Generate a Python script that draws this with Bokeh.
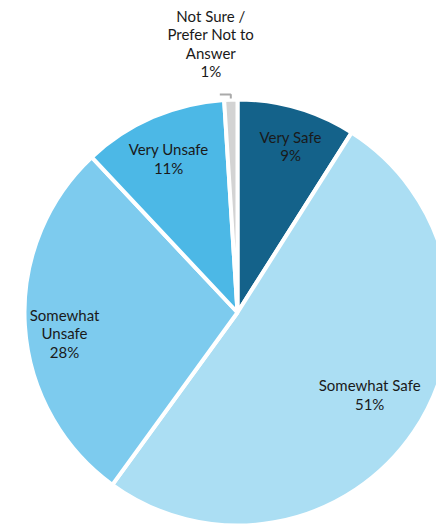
import math
from bokeh.plotting import figure
from bokeh.models import Range1d, ColumnDataSource
from bokeh.core.properties import value
from bokeh.embed import file_html
from bokeh.resources import INLINE

# ---- data ----
categories = ["Very Safe", "Somewhat Safe", "Somewhat Unsafe", "Very Unsafe", "Not Sure / Prefer Not to Answer"]
label_lines = ["Very Safe", "Somewhat Safe", "Somewhat\nUnsafe", "Very Unsafe", "Not Sure /\nPrefer Not to\nAnswer"]
percents = [9, 51, 28, 11, 1]
colors = ["#14628a", "#abdef3", "#7dcbee", "#4cb8e6", "#d3d3d3"]

# ---- layout ----
W, H = 436, 524
cx, cy, R = 237, 212, 213
label_r = [0.82, 0.73, 0.818, 0.792, None]
label_shift_deg = [1.5, -2.4, -3.3, -0.7, 0]   # clockwise shift of label from slice middle

p = figure(width=W, height=H, output_backend="svg", toolbar_location=None,
           x_range=Range1d(0, W), y_range=Range1d(0, H), min_border=0)
p.axis.visible = False
p.grid.visible = False
p.outline_line_color = None
p.background_fill_color = "white"

total = sum(percents)
starts, ends, mids = [], [], []
cum = 0.0
for v in percents:
    a0 = math.pi / 2 - 2 * math.pi * cum / total
    cum += v
    a1 = math.pi / 2 - 2 * math.pi * cum / total
    starts.append(a0)
    ends.append(a1)
    mids.append((a0 + a1) / 2)

src = ColumnDataSource(dict(x=[cx] * len(percents), y=[cy] * len(percents),
                            start=starts, end=ends, color=colors))
p.wedge(x="x", y="y", radius=R, start_angle="start", end_angle="end",
        direction="clock", fill_color="color", line_color="white", line_width=4,
        source=src)

font = value("Lato")
FS = "15px"
LH = 1.02
lx, ly, lt = [], [], []
for i, (lab, v) in enumerate(zip(label_lines, percents)):
    if label_r[i] is None:
        continue
    a = mids[i] - math.radians(label_shift_deg[i])
    lx.append(cx + R * label_r[i] * math.cos(a))
    ly.append(cy + R * label_r[i] * math.sin(a))
    lt.append(f"{lab}\n{v}%")
p.text(x=lx, y=ly, text=lt, text_font=font, text_font_size=FS,
       text_color="#1a1a1a", text_align="center", text_baseline="middle",
       text_line_height=LH)

# outside label for the small slice, with a leader
i = len(percents) - 1
ex = cx + R * math.cos(mids[i])
ey = cy + R * math.sin(mids[i]) + 1
p.line(x=[ex - 11, ex, ex], y=[ey + 4, ey + 4, ey], line_color="#aaaaaa", line_width=2)
p.text(x=[ex - 20], y=[ey + 55], text=[f"{label_lines[i]}\n{percents[i]}%"],
       text_font=font, text_font_size=FS, text_color="#1a1a1a",
       text_align="center", text_baseline="middle", text_line_height=LH)

open("out.html", "w").write(file_html(p, INLINE))
